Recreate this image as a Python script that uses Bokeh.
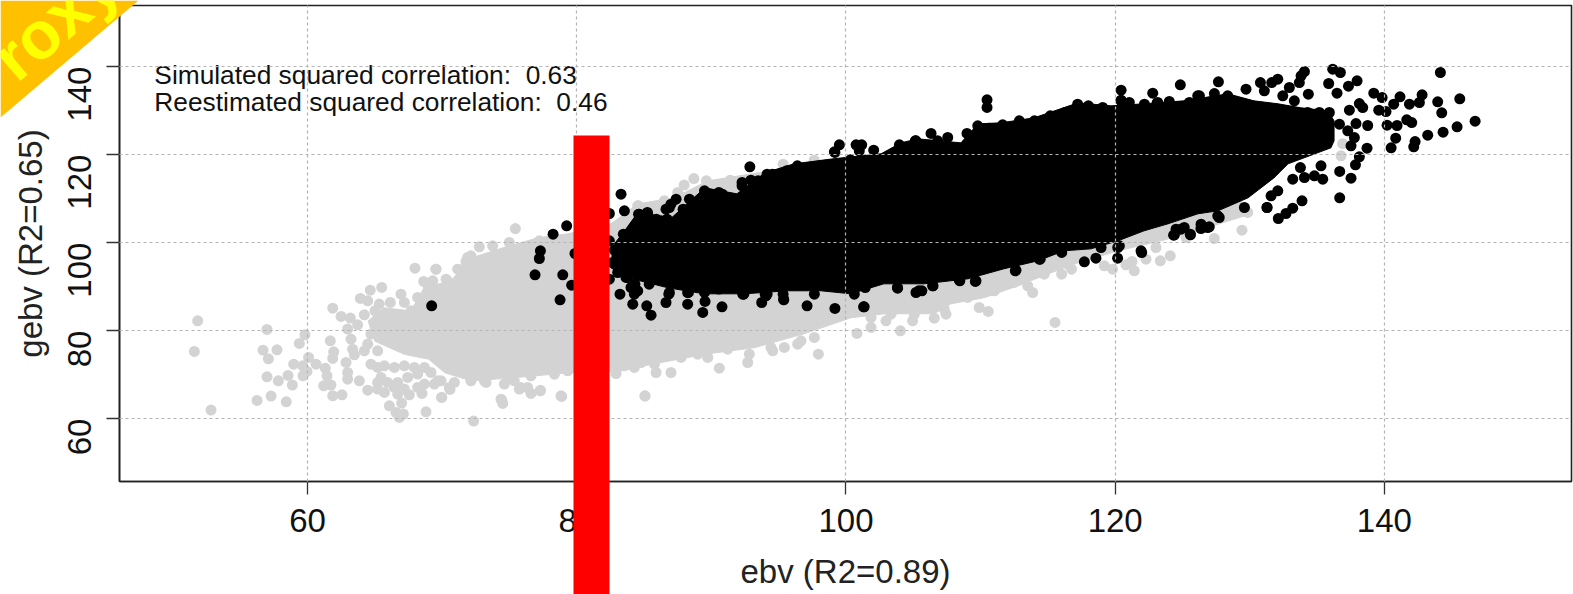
from math import pi
from bokeh.embed import file_html
from bokeh.resources import INLINE
from bokeh.plotting import figure
from bokeh.layouts import column, row
from bokeh.models import FixedTicker, Range1d
from bokeh.core.properties import value

x_ticks = [60, 80, 100, 120, 140]
y_ticks = [60, 80, 100, 120, 140]
x_title = "ebv (R2=0.89)"
y_title = "gebv (R2=0.65)"
note_lines = ["Simulated squared correlation: \u00a00.63", "Reestimated squared correlation: \u00a00.46"]
note_x = [48.62, 48.62]
note_y = [138.1, 132.0]
ribbon_text = "Proxy"

# Overplotted solid core of the grey cloud (outline)
grey_core_x = [64.5, 65.68, 67.68, 68.65, 70.65, 72.14, 74.59, 77.12, 79.35, 82.54, 84.55, 87.22, 89.75, 95.32, 99.03,
               129.35, 129.87, 125.63, 123.4, 120.21, 117.24, 115.23, 112.78, 110.25, 107.8, 106.54, 102.82, 100.37,
               96.88, 93.16, 89.75, 85.74, 83.28, 79.35, 75.33, 72.14, 70.2, 69.0, 67.2, 65.0]
grey_core_y = [82.2, 85.18, 84.5, 89.73, 91.32, 96.5, 98.9, 101.09, 102.0, 104.27, 108.82, 110.18, 114.05, 116.77, 118.59,
               109.5, 106.32, 102.23, 100.41, 98.14, 95.41, 93.14, 90.18, 87.45, 86.09, 83.82, 83.82, 82.91,
               79.27, 76.09, 74.73, 72.45, 70.86, 70.41, 69.27, 68.59, 70.4, 73.5, 74.6, 77.6]
# Individually visible grey points
grey_x = [51.84, 51.59, 52.83, 56.25, 57.29, 58.42, 56.99, 56.69, 57.73, 57.09, 56.99, 57.83, 58.55, 58.87, 59.39, 59.81,
          58.97, 59.64, 60.08, 60.63, 59.96, 59.66, 61.32, 61.45, 61.2, 61.74, 61.87, 62.56, 61.69, 61.94, 61.87, 62.86,
          63.48, 62.98, 62.98, 63.85, 64.47, 65.46, 65.21, 65.71, 66.7, 67.56, 66.99, 66.08, 66.57, 67.12, 66.82, 68.8,
          68.5, 69.96, 70.58, 72.34, 74.42, 74.5, 77.29, 78.88, 85.07, 61.87, 62.49, 63.18, 63.72, 62.98, 63.23, 63.35,
          63.92, 64.47, 64.66, 65.51, 65.01, 64.22, 65.33, 66.15, 66.94, 67.19, 68.18, 67.98, 69.54, 68.63, 69.3, 70.29,
          71.15, 71.9, 64.71, 65.21, 65.71, 66.45, 67.19, 67.93, 68.68, 69.17, 65.95, 66.7, 67.44, 68.18, 68.68, 69.42,
          66.45, 67.19, 68.18, 65.21, 69.67, 72.14, 73.26, 74.62, 75.73, 76.6,
          75.44, 74.99, 73.75, 72.76, 72.14, 71.77, 71.28, 69.54, 77.22, 84.53, 86.51,
          69.97, 74.37, 78.83, 85.07, 77.3, 75.86, 70.54, 73.14, 72.14, 75.36, 76.35, 90.59, 87.0, 85.89, 84.28, 92.7,
          82.92, 97.95, 94.56, 96.41,
          115.53, 101.86, 100.82, 104.04, 102.97, 104.95, 106.56, 107.43, 110.57, 109.9, 113.87, 116.02, 116.76, 119.19,
          119.81, 120.8, 121.42, 121.25, 122.29, 123.35, 124.09, 123.03, 127.36, 129.42, 125.26, 128.35, 129.84, 124.27,
          136.78, 136.9, 88.7, 87.98, 89.63, 91.4, 91.75, 95.33, 97.64, 86.44, 87.5, 85.78, 84.58,
          68.93, 70.41, 71.65, 72.76, 74.0, 74.92, 75.98, 77.1, 78.34, 79.33,
          69.92, 70.91, 73.38, 74.87, 76.6, 78.34, 79.33, 83.54, 84.77, 85.77, 87.75, 88.99, 89.73, 91.21, 92.82, 94.43,
          95.42, 96.66, 97.65, 101.86, 103.34, 105.08, 107.3, 109.04, 111.02, 112.5, 113.5, 114.73, 116.47,
          73.13, 74.37, 72.27, 67.69, 66.45, 65.46, 64.71, 64.47, 64.22, 65.21]
grey_y = [82.23, 75.26, 61.93, 64.12, 65.11, 63.82, 80.26, 75.56, 75.64, 73.59, 69.5, 68.59, 69.81, 67.61, 77.08, 79.05,
          72.38, 72.0, 73.9, 72.38, 70.72, 69.73, 71.47, 69.73, 67.46, 67.61, 65.19, 65.41, 77.69, 75.19, 73.67, 72.76,
          74.5, 70.49, 68.97, 68.59, 66.47, 69.35, 66.7, 65.94, 65.56, 65.41, 63.52, 62.91, 61.4, 61.02, 60.26, 61.55,
          65.72, 64.81, 66.63, 59.43, 64.2, 63.44, 66.32, 65.03, 65.11, 85.11, 83.22, 82.84, 81.32, 80.34, 78.06, 75.79,
          87.31, 86.78, 89.2, 89.81, 84.5, 83.59, 86.02, 86.4, 88.29, 86.4, 87.53, 94.2, 93.97, 91.17, 91.32, 91.7,
          93.97, 96.63, 72.38, 71.62, 72.0, 71.62, 72.0, 71.62, 71.62, 70.49, 68.21, 68.21, 69.35, 70.11, 67.84, 67.84,
          67.08, 66.7, 67.08, 68.21, 68.59, 68.59, 68.21, 67.84, 66.7, 65.72,
          103.2, 100.03, 99.27, 99.04, 97.0, 95.71, 93.82, 93.97, 100.41, 108.36, 109.5,
          64.8, 64.42, 65.18, 65.18, 66.47, 67.07, 67.07, 68.59, 68.74, 68.59, 67.07, 71.47, 70.48, 70.48, 71.62, 72.75,
          70.25, 74.65, 75.41, 76.92,
          81.85, 80.71, 79.35, 79.95, 82.23, 82.23, 82.83, 83.74, 84.35, 85.25, 88.66, 92.83, 93.97, 94.72,
          93.97, 94.95, 93.59, 95.71, 96.24, 95.86, 97.0, 98.89, 100.94, 102.83, 101.16, 107.22, 106.85, 104.57,
          119.73, 122.5, 114.57, 113.07, 114.05, 114.2, 111.6, 117.84, 118.75, 109.11, 111.39, 108.14, 108.36,
          90.41, 91.16, 91.92, 93.82, 94.95, 97.98, 97.98, 99.5, 98.36, 100.41,
          68.59, 68.21, 69.72, 69.35, 69.72, 70.1, 70.86, 72.0, 72.75, 72.37, 73.89, 74.65, 73.89, 75.79, 74.65, 76.17,
          76.17, 77.68, 78.44, 82.98, 83.74, 83.74, 84.88, 87.53, 89.04, 90.94, 90.18, 92.83, 95.1,
          94.35, 95.87, 92.84, 84.5, 82.99, 81.47, 79.2, 76.93, 75.41, 75.41]

# Overplotted solid core of the black cloud (outline)
black_core_x = [82.69, 83.66, 84.47, 86.55, 88.19, 89.52, 91.9, 93.98, 96.14, 99.03, 102.6, 104.09, 105.35, 108.54, 109.81,
                111.52, 113.97, 117.24, 119.69, 122.14, 125.11, 128.38, 130.31, 132.1, 133.8, 135.81, 136.26, 136.26,
                136.03, 132.84, 131.8, 129.87, 127.64, 126.15, 123.92, 122.14, 120.21, 118.2, 116.2, 114.26, 111.74,
                109.06, 105.8, 102.82, 100.37, 98.14, 95.69, 92.42, 89.45, 86.78, 83.8, 82.54]
black_core_y = [99.27, 103.14, 106.55, 104.27, 108.82, 112.45, 111.09, 115.86, 117.91, 119.05, 120.18, 122.68, 123.59, 122.68, 127.0,
                127.23, 128.36, 131.77, 131.09, 131.55, 132.23, 133.82, 132.23, 131.55, 130.64, 129.95, 127.68, 123.14,
                121.55, 117.91, 114.73, 110.18, 107.23, 106.55, 104.27, 102.68, 100.41, 98.59, 98.14, 95.86, 94.05,
                91.77, 90.64, 90.64, 88.36, 89.05, 89.05, 88.36, 88.36, 89.73, 92.0, 94.27]
# Individually visible black points
black_x = [69.22, 76.9, 78.76, 78.96, 79.62, 79.87, 77.22, 77.3, 78.24, 79.25, 83.29, 83.54, 82.42, 83.46, 82.42, 82.79,
           83.04, 82.42, 83.21, 84.16, 85.2, 85.52, 86.63, 84.03, 84.53, 84.28, 88.24, 89.53, 89.36, 90.79, 93.74, 94.06,
           95.37, 97.11, 97.65, 86.88, 88.24, 92.33, 88.37, 86.88, 87.38, 87.0, 86.63, 84.65, 85.27, 85.77,
           101.31, 100.62, 103.84, 105.2, 105.64, 106.44, 108.42, 109.61, 112.63, 114.36, 117.71, 118.57, 120.18, 121.97,
           120.31, 124.34, 125.58, 126.37, 126.99, 127.73, 131.28, 125.13, 124.52,
           144.16, 134.06, 133.81, 133.68, 136.16, 136.73, 135.86, 137.97, 137.33, 136.48, 134.35, 132.94, 132.08, 131.63,
           130.79, 129.72, 127.67, 127.37, 124.84, 122.79, 120.44, 120.44, 121.05, 123.16, 126.26, 139.21, 139.83, 141.16,
           140.69, 141.86, 142.6, 142.8, 143.96, 145.6, 144.26, 146.74, 145.4, 144.36, 143.22, 142.28, 142.18, 140.84,
           140.5, 141.66, 142.03, 140.94, 140.2, 138.76, 140.12, 139.58, 138.14, 137.4, 138.39, 137.89, 138.71, 138.14,
           137.85, 137.52, 136.68, 136.68, 133.88, 133.19, 132.69, 132.12, 131.28, 132.08, 131.58, 135.42, 134.8, 134.06,
           133.19, 133.76, 135.29, 137.52, 137.77, 137.28, 136.66, 135.17, 135.91, 134.3, 133.31, 132.45, 131.08, 128.36,
           126.87, 126.38, 125.59, 124.4, 124.89, 127.62, 129.6, 121.92, 120.19,
           110.48, 110.48, 120.43, 123.11, 122.17, 99.51, 99.14, 100.75, 101.17, 100.99, 102.06, 100.33, 106.32, 103.97,
           105.2, 106.81, 107.56, 108.99, 109.79, 110.65, 111.64, 112.88, 114.0, 115.18, 116.27, 117.21, 118.01, 119.07,
           124.02, 125.51, 126.13, 92.86, 92.94, 92.28, 89.49, 90.56, 94.14, 95.6, 96.39, 99.18, 99.18, 101.35, 94.14, 95.38,
           84.59, 85.25, 85.91, 86.71, 87.9, 90.82, 92.28, 93.47, 94.54, 97.06, 98.25, 105.15,
           83.66, 84.32, 85.38, 86.84, 88.3, 89.49, 90.56, 92.41, 94.0, 95.33, 97.72, 99.05, 101.43, 103.82, 105.41, 106.47,
           108.46, 109.66, 112.58, 114.43, 116.03, 118.95,
           83.29, 83.78, 82.67, 83.29, 83.91, 84.28, 84.77, 85.52, 86.26]
black_y = [85.63, 92.68, 86.99, 92.68, 90.33, 97.53, 96.39, 98.13, 101.92, 103.82, 111.01, 107.22, 106.62, 101.92, 100.41, 98.29,
           93.21, 91.69, 88.29, 86.01, 85.63, 83.51, 86.39, 89.8, 89.04, 88.29, 86.01, 86.62, 84.12, 85.41, 86.39, 87.91,
           87.15, 85.63, 88.29, 88.66, 88.66, 88.29, 109.88, 107.98, 109.88, 108.74, 107.6, 106.47, 106.47, 104.95,
           85.41, 88.29, 89.65, 88.66, 89.04, 90.18, 91.47, 91.17, 93.74, 96.24, 95.64, 96.47, 96.47, 97.75,
           99.27, 101.69, 101.92, 103.21, 103.59, 105.71, 107.98, 103.44, 103.06,
           138.67, 138.89, 137.91, 136.39, 139.42, 138.67, 136.17, 136.77, 135.56, 133.97, 133.74, 135.26, 137.15, 136.39,
           136.39, 134.88, 136.55, 133.89, 135.86, 133.97, 134.65, 132.38, 131.85, 131.85, 133.36, 133.97, 132.98, 133.14,
           131.47, 131.47, 131.85, 133.59, 132.0, 132.68, 129.5, 127.6, 126.32, 125.11, 124.42, 122.98, 121.77, 123.74,
           121.54, 127.91, 127.3, 126.62, 126.7, 126.62, 129.8, 130.11, 131.62, 130.11, 130.71, 127.07, 121.47, 119.5,
           117.68, 114.65, 116.17, 110.18, 109.5, 107.83, 106.62, 105.48, 107.98, 111.77, 110.63, 114.42, 115.18, 114.8,
           114.42, 117.07, 117.45, 122.0, 123.89, 125.41, 126.92, 129.58, 129.58, 129.58, 132.23, 133.36, 134.5, 133.36,
           103.44, 104.19, 101.77, 101.77, 103.06, 106.09, 107.98, 98.14, 98.89,
           132.46, 130.72, 132.23, 131.7, 131.47, 122.23, 120.64, 122.23, 122.23, 120.87, 121.02, 118.82, 124.81, 122.23,
           123.14, 123.14, 123.9, 124.81, 126.55, 126.02, 126.78, 127.69, 127.69, 128.82, 129.58, 131.47, 131.1, 130.72,
           132.08, 131.85, 133.37, 117.23, 114.2, 113.67, 111.77, 111.39, 115.56, 116.32, 117.45, 120.5, 85.03, 85.41, 88.29, 87.0,
           106.47, 106.85, 105.33, 105.33, 107.6, 111.0, 112.91, 114.05, 115.56, 116.7, 117.46, 123.14,
           92.08, 90.56, 90.56, 88.29, 88.67, 88.67, 89.43, 88.29, 88.29, 88.29, 90.18, 90.18, 89.8, 89.8, 89.05, 90.18,
           91.32, 91.32, 93.59, 96.24, 97.76, 98.89,
           93.97, 92.07, 95.48, 97.38, 98.89, 101.92, 104.2, 105.33, 104.95]

FONT = "Liberation Sans"
p = figure(width=1573, height=594, output_backend="svg", toolbar_location=None,
           x_range=Range1d(46.03, 153.9), y_range=Range1d(45.7, 153.9),
           min_border_left=119, min_border_right=2, min_border_top=5, min_border_bottom=113,
           x_axis_label=x_title, y_axis_label=y_title, background_fill_color="white",
           border_fill_color="white", outline_line_color="#222222", outline_line_width=1.6)

p.xaxis.ticker = FixedTicker(ticks=x_ticks)
p.yaxis.ticker = FixedTicker(ticks=y_ticks)
for ax in (p.xaxis[0], p.yaxis[0]):
    ax.major_tick_in = 0
    ax.major_tick_out = 13
    ax.minor_tick_in = 0
    ax.minor_tick_out = 0
    ax.major_tick_line_color = "#333333"
    ax.major_tick_line_width = 1.3
    ax.axis_line_color = "#222222"
    ax.axis_line_width = 1.6
    ax.major_label_text_font = FONT
    ax.major_label_text_font_size = "33px"
    ax.major_label_text_color = "#111111"
    ax.axis_label_text_font = FONT
    ax.axis_label_text_font_size = "33px"
    ax.axis_label_text_font_style = "normal"
    ax.axis_label_text_color = "#222222"
p.xaxis.major_label_standoff = 14
p.xaxis.axis_label_standoff = 18
p.yaxis.major_label_standoff = 27
p.yaxis.axis_label_standoff = 5
p.yaxis.major_label_orientation = pi / 2

for g in p.grid:
    g.grid_line_color = "#b4b4b4"
    g.grid_line_dash = "3 3"
    g.grid_line_width = 1.2
    g.level = "annotation"

p.patch(grey_core_x, grey_core_y, fill_color="#D3D3D3", line_color="#D3D3D3", line_width=1)
p.scatter(grey_x, grey_y, size=11, marker="circle", fill_color="#D3D3D3", line_color=None)
p.patch(black_core_x, black_core_y, fill_color="#000000", line_color="#000000", line_width=1)
p.scatter(black_x, black_y, size=11, marker="circle", fill_color="#000000", line_color=None)

p.text(note_x, note_y, text=note_lines, text_font=value(FONT), text_font_size="26.3px", text_color="#111111",
       text_align="left", text_baseline="middle")

# Transparent layer with the decorations that lie over the whole reference picture (page pixels)
ov = figure(width=1573, height=594, output_backend="svg", toolbar_location=None,
            x_range=Range1d(0, 1573), y_range=Range1d(594, 0), x_axis_type=None, y_axis_type=None,
            min_border=0, outline_line_color=None, background_fill_alpha=0, border_fill_alpha=0)
ov.grid.visible = False
ov.patch([573, 609, 609, 573], [135, 135, 600, 600], fill_color="#FF0000", line_color=None)
ov.patch([0, 138, 0], [0, 0, 117], fill_color="#FFC000", line_color=None)
ov.text([38], [34], text=[ribbon_text], angle=40.6, angle_units="deg", text_font=value(FONT),
        text_font_size="67px", text_font_style="bold", text_color="#FFFF00",
        text_align="center", text_baseline="middle")

open("out.html", "w").write(file_html(column(p, row(ov, margin=(-594, 0, 0, 0)), spacing=0), INLINE))
